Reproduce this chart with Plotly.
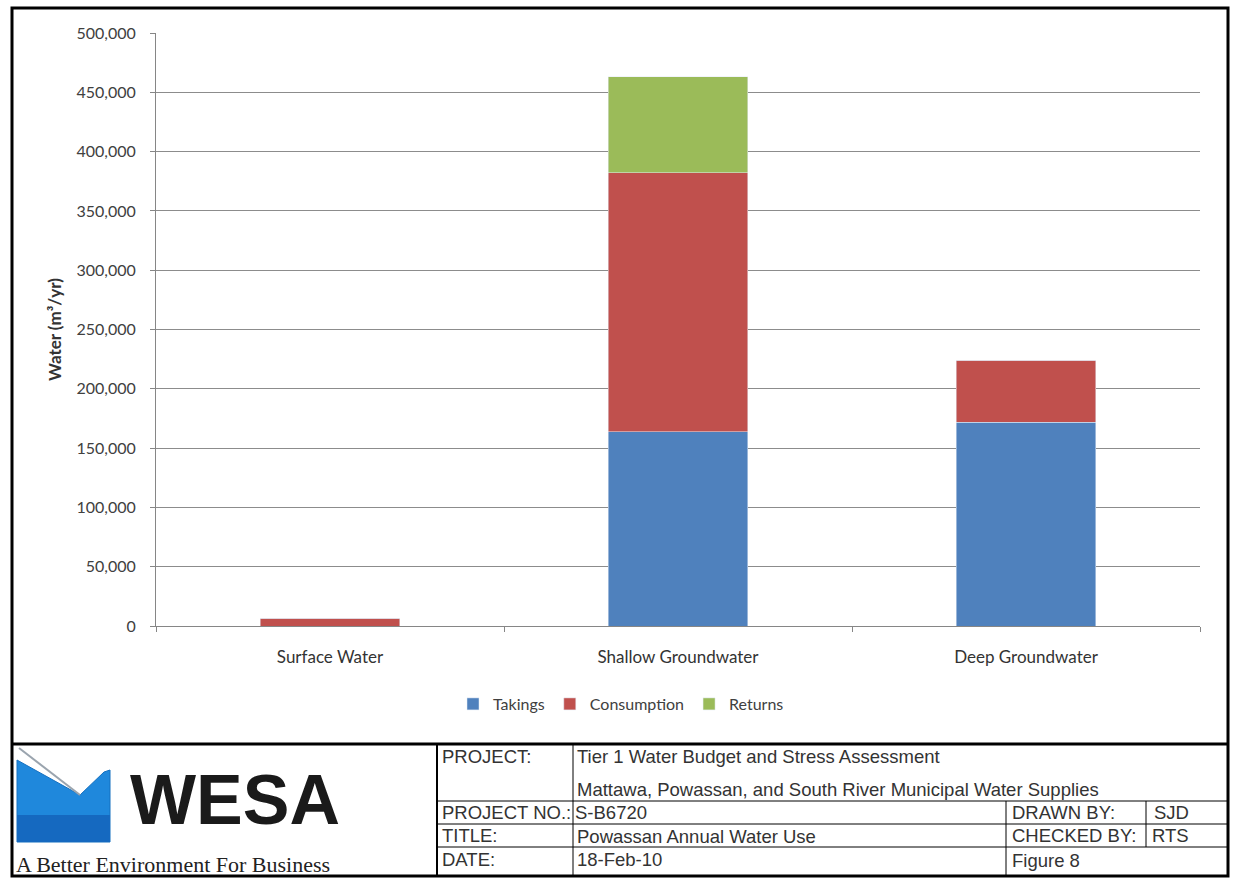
import plotly.graph_objects as go

categories = ['Surface Water', 'Shallow Groundwater', 'Deep Groundwater']
takings = [0, 164000, 172000]
consumption = [6500, 218000, 52000]
returns = [0, 81000, 0]

y_ticks = [0, 50000, 100000, 150000, 200000, 250000, 300000, 350000, 400000, 450000, 500000]

# plot area in pixels, used to place the title block around the chart
L, R, T, B = 156, 1200, 33, 626


def fx(x):
    return (x - L) / (R - L)


def fy(y):
    return (B - y) / (B - T)


fig = go.Figure(data=[
    go.Bar(name='Takings', x=categories, y=takings, marker_color='#4f81bd'),
    go.Bar(name='Consumption', x=categories, y=consumption, marker_color='#c0504d'),
    go.Bar(name='Returns', x=categories, y=returns, marker_color='#9bbb59'),
])

chart_font = 'Lato, Open Sans, sans-serif'

fig.update_layout(
    barmode='stack',
    bargap=0.6,
    width=1233,
    height=879,
    margin=dict(l=L, r=1233 - R, t=T, b=879 - B),
    paper_bgcolor='white',
    plot_bgcolor='white',
    font=dict(family=chart_font, size=16, color='#404040'),
    showlegend=True,
    legend=dict(orientation='h', x=fx(621), xanchor='center', y=fy(704), yanchor='middle',
                traceorder='normal', font=dict(size=16, color='#404040'), itemwidth=30),
    xaxis=dict(showline=True, linecolor='#868686', linewidth=1, ticks='outside', ticklen=5,
               tickcolor='#868686', tickson='boundaries', tickfont=dict(size=17, color='#333333'),
               ticklabelstandoff=16),
    yaxis=dict(range=[0, 500000], tickvals=y_ticks, tickformat=',d', showline=True,
               linecolor='#868686', ticks='outside', ticklen=5, tickcolor='#868686',
               showgrid=True, gridcolor='#8c8c8c', gridwidth=1, zeroline=False,
               tickfont=dict(size=16, color='#404040'), ticklabelstandoff=11,
               title=dict(text='<b>Water (m³/yr)</b>', font=dict(size=17, color='#333333'), standoff=10)),
)

shapes = []


def line(x0, y0, x1, y1, w=1):
    shapes.append(dict(type='line', xref='paper', yref='paper', x0=fx(x0), y0=fy(y0), x1=fx(x1), y1=fy(y1),
                       line=dict(color='black', width=w)))


# outer frame and title block
shapes.append(dict(type='rect', xref='paper', yref='paper', x0=fx(12), y0=fy(8), x1=fx(1228), y1=fy(876),
                   line=dict(color='black', width=3)))
line(12, 744, 1228, 744, 3)
line(437, 744, 437, 876, 2)
line(437, 801, 1228, 801)
line(437, 824, 1228, 824)
line(437, 847, 1228, 847)
line(573, 744, 573, 876)
line(1006, 801, 1006, 876)
line(1146, 801, 1146, 847)

# logo
pts = [(17, 760), (80, 795), (104, 772), (110, 770), (110, 842), (17, 842)]
path = 'M ' + ' L '.join(f'{fx(a)},{fy(b)}' for a, b in pts) + ' Z'
shapes.append(dict(type='path', xref='paper', yref='paper', path=path, fillcolor='#1f88dc',
                   line=dict(color='#1470c0', width=1)))
shapes.append(dict(type='rect', xref='paper', yref='paper', x0=fx(17), y0=fy(842), x1=fx(110), y1=fy(815),
                   fillcolor='#1569c0', line=dict(width=0)))
shapes.append(dict(type='line', xref='paper', yref='paper', x0=fx(19), y0=fy(748), x1=fx(80), y1=fy(795),
                   line=dict(color='#9aa4ae', width=2)))

fig.update_layout(shapes=shapes)

annotations = []


def label(x, y, text, size=18.5, family='Liberation Sans, Arial, sans-serif', color='#333333', anchor='left'):
    annotations.append(dict(xref='paper', yref='paper', x=fx(x), y=fy(y), text=text, showarrow=False,
                            xanchor=anchor, yanchor='middle', font=dict(size=size, family=family, color=color)))


label(440, 757, 'PROJECT:')
label(575, 757, 'Tier 1 Water Budget and Stress Assessment')
label(575, 789, 'Mattawa, Powassan, and South River Municipal Water Supplies')
label(440, 812, 'PROJECT NO.:')
label(573, 812, 'S-B6720')
label(1010, 812, 'DRAWN BY:')
label(1152, 812, 'SJD')
label(440, 835, 'TITLE:')
label(575, 836, 'Powassan Annual Water Use')
label(1010, 835, 'CHECKED BY:')
label(1150, 835, 'RTS')
label(440, 859, 'DATE:')
label(575, 859, '18-Feb-10')
label(1010, 860, 'Figure 8')

label(235, 800, '<b>WESA</b>', size=70, family='Liberation Sans Narrow, Arial Narrow, Liberation Sans, sans-serif',
      color='#1a1a1a', anchor='center')
label(14, 864, 'A Better Environment For Business', size=22, family='Liberation Serif, Times New Roman, serif',
      color='#222222')

fig.update_layout(annotations=annotations)

fig.write_html('out.html', config={'displayModeBar': False},
               post_script="document.body.style.margin='0';")
